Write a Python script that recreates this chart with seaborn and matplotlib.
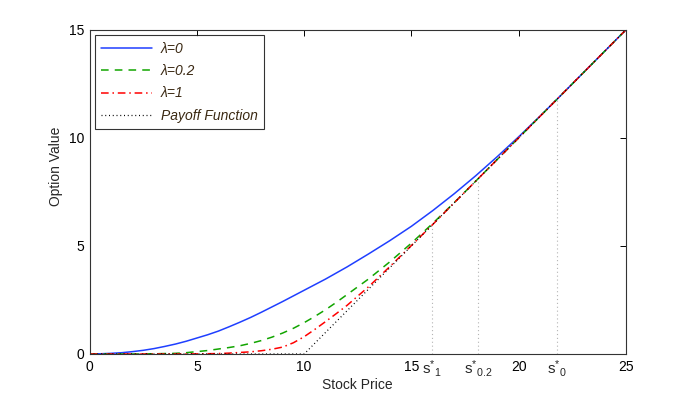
import numpy as np
import matplotlib
matplotlib.use("Agg")
import matplotlib.pyplot as plt
import seaborn as sns

# valores (preço da ação x valor da opção)
strike = 10.0

s_lam0 = [0, 0.5, 1, 1.5, 2, 2.5, 3, 3.5, 4, 4.5, 5, 5.5, 6, 6.5, 7, 7.5, 8, 8.5, 9, 9.5,
          10, 11, 12, 13, 14, 15, 16, 17, 18, 19, 20, 21, 21.77, 25]
v_lam0 = [0, 0.01, 0.03, 0.06, 0.11, 0.17, 0.25, 0.35, 0.46, 0.59, 0.74, 0.89, 1.06, 1.26,
          1.47, 1.69, 1.93, 2.18, 2.43, 2.69, 2.95, 3.47, 4.03, 4.63, 5.25, 5.91, 6.64,
          7.42, 8.25, 9.13, 10.05, 11.01, 11.77, 15.0]

s_lam02 = [0, 2, 3, 3.5, 4, 4.5, 5, 5.5, 6, 6.5, 7, 7.5, 8, 8.5, 9, 9.5, 10, 10.5, 11,
           11.5, 12, 13, 14, 15, 16, 17, 18, 18.12, 25]
v_lam02 = [0, 0, 0.01, 0.02, 0.03, 0.06, 0.11, 0.16, 0.23, 0.30, 0.38, 0.49, 0.62, 0.78,
           0.97, 1.19, 1.45, 1.74, 2.05, 2.39, 2.75, 3.47, 4.27, 5.13, 6.05, 7.01, 8.0,
           8.12, 15.0]

s_lam1 = [0, 4, 5, 6, 6.5, 7, 7.5, 8, 8.5, 9, 9.5, 10, 10.5, 11, 11.5, 12, 13, 14, 15,
          15.98, 25]
v_lam1 = [0, 0, 0.005, 0.02, 0.04, 0.07, 0.10, 0.15, 0.22, 0.32, 0.52, 0.80, 1.14, 1.50,
          1.87, 2.25, 3.11, 4.05, 5.02, 5.98, 15.0]

s_payoff = [0, 10, 25]
v_payoff = [0, 0, 15]

s_star = [15.98, 18.12, 21.77]
star_labels = [r"$\mathregular{s^{*}{}_{1}}$", r"$\mathregular{s^{*}{}_{0.2}}$", r"$\mathregular{s^{*}{}_{0}}$"]

sns.set_theme(style="white")
plt.rcParams["font.family"] = ["Liberation Sans", "DejaVu Sans"]
plt.rcParams["mathtext.fontset"] = "custom"
plt.rcParams["mathtext.rm"] = "Liberation Sans"

fig = plt.figure(figsize=(6.92, 3.98), dpi=100)
ax = fig.add_axes([0.1297, 0.1106, 0.7746, 0.8141])

# linhas verticais pontilhadas em s*
ax.vlines(s_star, 0, np.maximum(np.array(s_star) - strike, 0), colors="#b4b4b4",
          linestyles=(0, (1, 2.5)), linewidth=0.8)

sns.lineplot(x=s_lam0, y=v_lam0, ax=ax, color="#1f3fff", linewidth=1.1,
             estimator=None, sort=False, label="λ=0")
sns.lineplot(x=s_lam02, y=v_lam02, ax=ax, color="#12a500", linewidth=1.1,
             estimator=None, sort=False, label="λ=0.2", linestyle=(0, (5, 4)))
sns.lineplot(x=s_lam1, y=v_lam1, ax=ax, color="#ff0000", linewidth=1.1,
             estimator=None, sort=False, label="λ=1", linestyle=(0, (5, 2.5, 1, 2.5)))
sns.lineplot(x=s_payoff, y=v_payoff, ax=ax, color="black", linewidth=0.9,
             estimator=None, sort=False, label="Payoff Function", linestyle=(0, (0.8, 2.2)))

ax.set_xlim(0, 25)
ax.set_ylim(0, 15)
ax.set_xticks([0, 5, 10, 15, 20, 25])
ax.set_yticks([0, 5, 10, 15])
ax.tick_params(direction="in", length=4, width=0.7, top=True, right=True,
               labelsize=10, colors="black", pad=4)
for sp in ax.spines.values():
    sp.set_color("#333333")
    sp.set_linewidth(0.8)

for s, lab in zip(s_star, star_labels):
    ax.annotate(lab, xy=(s, 0), xycoords=("data", "axes fraction"),
                xytext=(0, -3), textcoords="offset points",
                ha="center", va="top", fontsize=11)

ax.set_xlabel("Stock Price", fontsize=10, labelpad=3)
ax.set_ylabel("Option Value", fontsize=10)
ax.yaxis.set_label_coords(-0.05, 0.58)

leg = ax.legend(loc="upper left", bbox_to_anchor=(0.009, 0.983), borderaxespad=0,
                frameon=True, fancybox=False, edgecolor="black", handlelength=3.7,
                labelspacing=0.6, fontsize=10, borderpad=0.45, handletextpad=0.6)
leg.get_frame().set_linewidth(0.8)
for t in leg.get_texts():
    t.set_fontstyle("italic")
    t.set_color("#3a2812")

fig.savefig("out.png", dpi=100)
